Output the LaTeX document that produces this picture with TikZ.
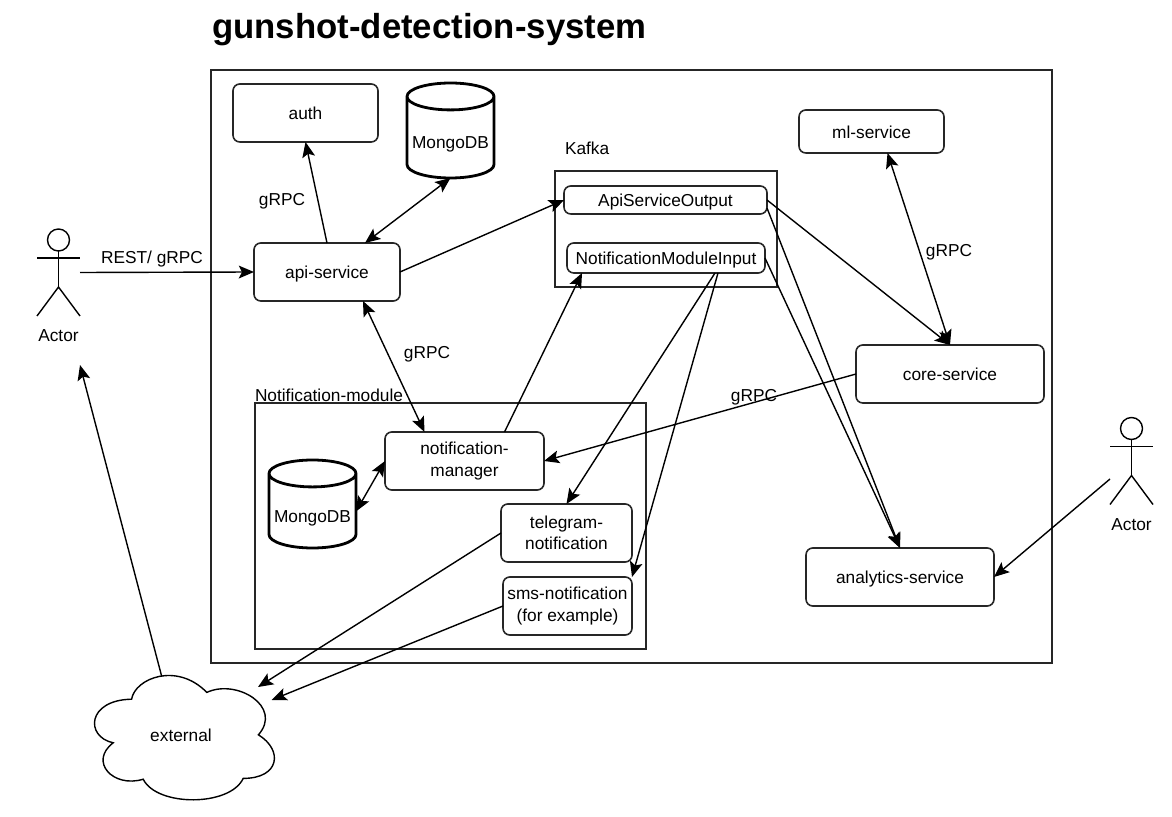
\documentclass[tikz,border=0pt]{standalone}
\usepackage{fontspec}
\setmainfont{Liberation Sans}
\usetikzlibrary{arrows.meta,positioning,shapes.geometric}
\tikzset{
  txt/.style={font=\fontsize{12.3}{15}\selectfont, inner sep=0pt, outer sep=0pt, align=center, text height=0.41cm, text depth=0.08cm},
  twolines/.style={text height=, text depth=},
  frame/.style={txt, draw=black!85, line width=0.05cm, anchor=north west},
  svc/.style={txt, draw=black!85, line width=0.04cm, rounded corners=0.17cm, anchor=north west},
  dbstore/.style={txt, cylinder, shape border rotate=90, aspect=0.35, draw=black, line width=0.07cm, minimum width=2.175cm, anchor=south, text height=0.63cm},
  actorbox/.style={inner sep=0pt, outer sep=0pt, minimum width=1.075cm, minimum height=2.175cm},
  conn/.style={line width=0.035cm, -{Stealth[length=0.38cm,width=0.32cm,inset=0.08cm]}},
  biconn/.style={line width=0.035cm, {Stealth[length=0.38cm,width=0.32cm,inset=0.08cm]}-{Stealth[length=0.38cm,width=0.32cm,inset=0.08cm]}}
}
\begin{document}
\begin{tikzpicture}
    \useasboundingbox (0,0) rectangle (29.3,20.4);

    % Title and outer box
    \node[anchor=west, font=\fontsize{24.7}{28}\selectfont\bfseries, inner sep=0pt] (title) at (5.3,19.67) {gunshot-detection-system};
    \node[frame, minimum width=21.025cm, minimum height=14.825cm] (mainbox) at (5.275,18.65) {};

    % Top left services
    \node[svc, minimum width=3.625cm, minimum height=1.45cm] (auth) at (5.825,18.3) {auth};
    \node[svc, minimum width=3.65cm, minimum height=1.45cm] (api) at (6.35,14.325) {api-service};
    \node[dbstore, minimum height=2.375cm] (mongotop) at (11.2625,15.95) {MongoDB};

    % Kafka topics
    \node[txt, anchor=west] (kafkalabel) at (14.125,16.7) {Kafka};
    \node[frame, minimum width=5.55cm, minimum height=2.9cm] (kafka) at (13.875,16.125) {};
    \node[svc, minimum width=5.075cm, minimum height=0.7cm] (apiout) at (14.1,15.75) {ApiServiceOutput};
    \node[svc, minimum width=4.95cm, minimum height=0.75cm] (notifin) at (14.175,14.325) {NotificationModuleInput};

    % Right side services
    \node[svc, minimum width=3.625cm, minimum height=1.075cm] (ml) at (19.975,17.65) {ml-service};
    \node[svc, minimum width=4.7cm, minimum height=1.45cm] (core) at (21.4,11.775) {core-service};
    \node[svc, minimum width=4.7cm, minimum height=1.45cm] (analytics) at (20.15,6.7) {analytics-service};

    % Notification module
    \node[txt, anchor=west] (modlabel) at (6.375,10.525) {Notification-module};
    \node[frame, minimum width=9.775cm, minimum height=6.15cm] (module) at (6.375,10.325) {};
    \node[svc, twolines, minimum width=3.975cm, minimum height=1.45cm] (manager) at (9.625,9.6) {notification-\\manager};
    \node[dbstore, minimum height=2.2cm] (mongolow) at (7.8125,6.7) {MongoDB};
    \node[svc, twolines, minimum width=3.275cm, minimum height=1.45cm] (telegram) at (12.525,7.8) {telegram-\\notification};
    \node[svc, twolines, minimum width=3.225cm, minimum height=1.45cm] (sms) at (12.575,5.975) {sms-notification\\(for example)};

    % Actors
    \node[actorbox] (actorleft) at (1.4625,13.5875) {};
    \node[actorbox] (actorright) at (28.2875,8.875) {};
    \foreach \who in {actorleft,actorright} {
      \draw[line width=0.035cm] ([yshift=-0.275cm]\who.north) circle (0.275cm);
      \draw[line width=0.035cm] ([yshift=-0.55cm]\who.north) -- ([yshift=-1.45cm]\who.north);
      \draw[line width=0.035cm] ([yshift=-0.725cm]\who.north west) -- ([yshift=-0.725cm]\who.north east);
      \draw[line width=0.035cm] (\who.south west) -- ([yshift=-1.45cm]\who.north) -- (\who.south east);
    }
    \node[txt, below=0.24cm of actorleft] (actorlefttxt) {Actor};
    \node[txt, below=0.24cm of actorright] (actorrighttxt) {Actor};

    % Cloud
    \draw[line width=0.035cm] (3.29,2.92) .. controls (3.375,3.44) and (4.42,3.86) .. (5.17,3.09)
      .. controls (5.92,3.44) and (7.08,2.73) .. (6.46,2.03)
      .. controls (7.08,1.65) and (7.0,0.94) .. (6.08,0.94)
      .. controls (5.75,0.23) and (3.92,0.23) .. (3.58,0.92)
      .. controls (2.83,0.69) and (2.21,1.36) .. (2.83,1.83)
      .. controls (2.125,1.98) and (2.17,2.9) .. (3.29,2.92) -- cycle;
    \node[txt] (external) at (4.525,2.025) {external};
    \coordinate (cloudtop) at (4.04,3.5);
    \coordinate (cloudtel) at (6.45,3.225);
    \coordinate (cloudsms) at (6.79,2.9);
    \coordinate (actorfoot) at (2.0,11.275);

    % Connectors
    \draw[conn] (actorleft.east) -- (api.west);
    \draw[conn] (api.north) -- (auth.south);
    \draw[biconn] ([xshift=0.95cm]api.north) -- (mongotop.south);
    \draw[conn] (api.east) -- (apiout.west);
    \draw[biconn] ([xshift=0.9cm]api.south) -- ([xshift=-1cm]manager.north);
    \draw[conn] ([xshift=1cm]manager.north) -- ([xshift=-2.1cm]notifin.south);
    \draw[biconn] (manager.west) -- (mongolow.east);
    \draw[conn] (core.west) -- (manager.east);
    \draw[conn] (apiout.east) -- (core.north);
    \draw[biconn] ([xshift=0.4cm]ml.south) -- (core.north);
    \draw[conn] ([yshift=-0.2cm]apiout.east) -- (analytics.north);
    \draw[conn] (notifin.east) -- (analytics.north);
    \draw[conn] ([xshift=1.225cm]notifin.south) -- (telegram.north);
    \draw[conn] ([xshift=1.3cm]notifin.south) -- (sms.north east);
    \draw[conn] (telegram.west) -- (cloudtel);
    \draw[conn] (sms.west) -- (cloudsms);
    \draw[conn] (cloudtop) -- (actorfoot);
    \draw[conn] ([yshift=-0.45cm]actorright.west) -- (analytics.east);

    % Connector labels
    \node[txt] (restlabel) at (3.8,13.975) {REST/ gRPC};
    \node[txt] (authlabel) at (7.05,15.425) {gRPC};
    \node[txt] (managerlabel) at (10.675,11.6) {gRPC};
    \node[txt] (mllabel) at (23.725,14.15) {gRPC};
    \node[txt] (corelabel) at (18.85,10.525) {gRPC};
\end{tikzpicture}
\end{document}
